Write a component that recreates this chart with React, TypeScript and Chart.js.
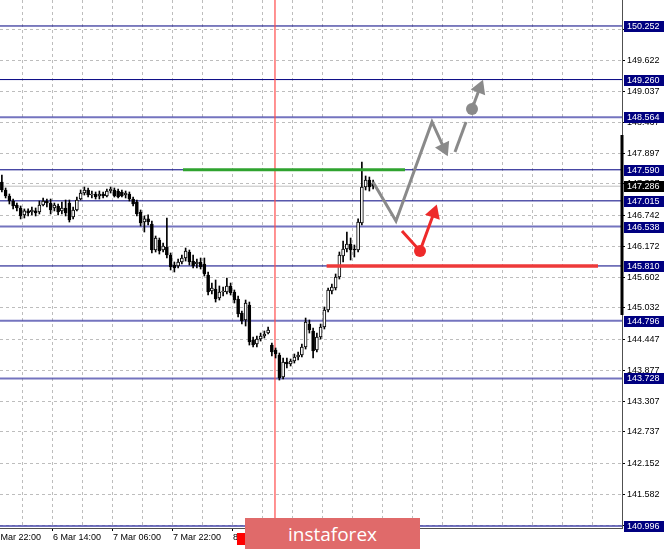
import React, { useEffect, useRef } from 'react';
import { Chart, registerables } from 'chart.js';
Chart.register(...registerables);

// ---- Candles (H1), index = bar position ----
const candleOpen = [
  147.364, 147.216, 147.105, 147.012, 146.938, 146.883, 146.754, 146.828, 146.809, 146.828,
  146.809, 146.938, 147.012, 146.975, 146.883, 146.920, 146.828, 146.883, 146.975, 146.717,
  146.846, 147.049, 147.160, 147.216, 147.123, 147.142, 147.105, 147.142, 147.105, 147.197,
  147.216, 147.197, 147.179, 147.123, 147.142, 147.049, 146.994, 146.809, 146.623, 146.680,
  146.586, 146.105, 146.290, 146.105, 146.161, 146.012, 145.827, 145.809, 145.883, 145.957,
  146.068, 145.901, 145.846, 145.883, 145.846, 145.642, 145.346, 145.383, 145.216, 145.328,
  145.328, 145.439, 145.328, 145.198, 144.939, 144.809, 145.086, 144.439, 144.365, 144.457,
  144.513, 144.568, 144.346, 144.254, 144.161, 143.754, 144.032, 143.995, 144.050, 144.124,
  144.161, 144.309, 144.735, 144.605, 144.254, 144.494, 144.680, 144.994, 145.346, 145.402,
  145.605, 145.994, 146.124, 146.216, 146.124, 146.105, 146.605, 147.271, 147.401, 147.345,
];
const candleHigh = [
  147.493, 147.253, 147.142, 147.049, 146.975, 146.920, 146.865, 146.865, 146.901, 146.883,
  147.012, 147.068, 147.049, 147.049, 146.975, 146.957, 146.994, 147.031, 147.031, 146.901,
  147.086, 147.216, 147.271, 147.253, 147.197, 147.179, 147.197, 147.179, 147.234, 147.271,
  147.253, 147.234, 147.216, 147.197, 147.179, 147.086, 147.031, 146.846, 146.735, 146.754,
  146.642, 146.364, 146.327, 146.235, 146.698, 146.050, 145.883, 145.938, 146.012, 146.142,
  146.105, 146.012, 145.938, 145.957, 145.957, 145.698, 145.494, 145.550, 145.439, 145.420,
  145.587, 145.494, 145.365, 145.253, 144.976, 145.179, 145.142, 144.494, 144.513, 144.568,
  144.605, 144.680, 144.383, 144.291, 144.198, 144.106, 144.106, 144.087, 144.180, 144.217,
  144.365, 144.846, 144.809, 144.661, 144.568, 144.735, 145.050, 145.402, 145.476, 145.661,
  146.068, 146.272, 146.438, 146.327, 146.198, 146.680, 147.734, 147.475, 147.456, 147.401,
];
const candleLow = [
  147.179, 147.068, 146.957, 146.865, 146.828, 146.680, 146.698, 146.735, 146.754, 146.735,
  146.772, 146.920, 146.901, 146.772, 146.828, 146.754, 146.772, 146.735, 146.623, 146.680,
  146.828, 147.031, 147.123, 147.086, 147.068, 147.049, 147.049, 147.068, 147.086, 147.160,
  147.086, 147.068, 147.086, 147.068, 147.012, 146.920, 146.735, 146.549, 146.438, 146.568,
  146.050, 146.068, 146.031, 146.068, 145.957, 145.735, 145.698, 145.772, 145.846, 145.901,
  145.827, 145.772, 145.772, 145.753, 145.624, 145.272, 145.290, 145.142, 145.179, 145.253,
  145.290, 145.272, 145.124, 144.865, 144.735, 144.698, 144.346, 144.309, 144.309, 144.420,
  144.476, 144.550, 144.143, 144.106, 143.698, 143.717, 143.921, 143.958, 144.013, 144.069,
  144.124, 144.272, 144.568, 144.106, 144.217, 144.457, 144.643, 144.957, 145.290, 145.365,
  145.568, 145.883, 146.068, 145.920, 145.975, 146.068, 146.568, 147.216, 147.197, 147.234,
];
const candleClose = [
  147.216, 147.105, 147.012, 146.920, 146.883, 146.735, 146.828, 146.791, 146.846, 146.791,
  146.938, 147.012, 146.975, 146.846, 146.938, 146.809, 146.883, 146.791, 146.660, 146.846,
  147.031, 147.160, 147.216, 147.123, 147.142, 147.086, 147.142, 147.105, 147.197, 147.234,
  147.105, 147.086, 147.105, 147.160, 147.049, 146.957, 146.772, 146.605, 146.680, 146.623,
  146.105, 146.327, 146.087, 146.179, 146.012, 145.790, 145.772, 145.883, 145.957, 146.087,
  145.883, 145.809, 145.883, 145.790, 145.661, 145.328, 145.402, 145.198, 145.328, 145.346,
  145.439, 145.309, 145.179, 144.920, 144.791, 145.124, 144.402, 144.346, 144.457, 144.513,
  144.550, 144.624, 144.217, 144.180, 143.735, 144.032, 143.995, 144.050, 144.124, 144.161,
  144.309, 144.772, 144.624, 144.235, 144.494, 144.680, 144.994, 145.365, 145.420, 145.605,
  146.012, 146.124, 146.216, 146.105, 146.105, 146.623, 147.271, 147.401, 147.271, 147.286,
];

// ---- Axes ----
const xMin = -0.5;
const xMax = 165.37;
const yMin = 140.959;
const yMax = 150.733;
const yTicks = [
  150.192, 149.622, 149.037, 148.467, 147.897, 147.327, 146.742, 146.172, 145.602,
  145.032, 144.447, 143.877, 143.307, 142.737, 142.152, 141.582, 141.012,
];
const xTickValues = [
  -2.367, 5.633, 13.633, 21.633, 29.633, 37.633, 45.633, 53.633, 61.633, 69.633, 77.633,
  85.633, 93.633, 101.633, 109.633, 117.633, 125.633, 133.633, 141.633, 149.633, 157.633,
];
const xTickLabels = [
  '5 Mar 22:00', '', '6 Mar 14:00', '', '7 Mar 06:00', '', '7 Mar 22:00', '', '8 Mar 14:00', '',
  '9 Mar 06:00', '', '9 Mar 22:00', '', '', '', '', '', '', '', '',
];

// ---- Levels ----
const levelsDark = [150.252, 149.26, 147.59, 147.015, 145.81];
const levelsLight = [148.564, 146.538, 144.796, 143.728, 140.996];
const currentPrice = 147.286;
const rangeBar = [148.234, 144.902];
const markerTime = 72.83;
const markerLabel = '9 Mar 01:00';

// ---- Forecast drawings ----
const greenLineX = [48.3, 107.5];
const greenLineY = [147.59, 147.59];
const redLineX = [86.6, 158.97];
const redLineY = [145.81, 145.81];
const greyPathX = [98.97, 105.1, 114.7, 117.9];
const greyPathY = [147.364, 146.642, 148.475, 147.99];
const greySeg2X = [120.83, 123.77];
const greySeg2Y = [147.919, 148.475];
const greyArrowX = [125.37, 127.4];
const greyArrowY = [148.715, 149.1];
const redPathX = [106.7, 111.5, 115.2];
const redPathY = [146.457, 146.087, 146.79];

const FONT = 'Liberation Sans';

const pts = (xs: number[], ys: number[]) => xs.map((x, i) => ({ x, y: ys[i] }));

const overlayPlugin = {
  id: 'overlay',
  afterDraw(chart: any) {
    const { ctx, chartArea } = chart;
    const x = chart.scales.x;
    const y = chart.scales.y;
    const rx = chartArea.right;
    ctx.save();
    // range bar on the axis
    const y1 = y.getPixelForValue(rangeBar[0]);
    const y2 = y.getPixelForValue(rangeBar[1]);
    ctx.fillStyle = '#000';
    ctx.fillRect(rx - 1.5, y1, 3, y2 - y1);
    // price boxes
    ctx.font = `9px "${FONT}"`;
    ctx.textBaseline = 'middle';
    ctx.textAlign = 'left';
    const box = (v: number, bg: string) => {
      const py = Math.round(y.getPixelForValue(v));
      ctx.fillStyle = bg;
      ctx.fillRect(rx + 2, py - 5, 40, 11);
      ctx.fillStyle = '#fff';
      ctx.fillText(v.toFixed(3), rx + 5, py + 0.5);
    };
    [...levelsDark, ...levelsLight].forEach((v) => box(v, '#000080'));
    box(currentPrice, '#000');
    // red time label of the vertical line
    const mx = x.getPixelForValue(markerTime);
    ctx.fillStyle = '#ff0000';
    ctx.fillRect(mx - 38, chartArea.bottom + 5, 76, 12);
    ctx.fillStyle = '#fff';
    ctx.textAlign = 'center';
    ctx.fillText(markerLabel, mx, chartArea.bottom + 11);
    ctx.restore();
  },
};

export default function App() {
  const ref = useRef<HTMLCanvasElement>(null);
  useEffect(() => {
    const idx = candleOpen.map((_, i) => i);
    const levelDatasets = [
      ...levelsDark.map((v) => ({
        type: 'line',
        data: pts([xMin, xMax], [v, v]),
        borderColor: '#000080',
        borderWidth: 1,
        pointRadius: 0,
        order: 10,
      })),
      ...levelsLight.map((v) => ({
        type: 'line',
        data: pts([xMin, xMax], [v, v]),
        borderColor: 'rgba(70,70,170,0.75)',
        borderWidth: 2,
        pointRadius: 0,
        order: 10,
      })),
    ];
    const chart = new Chart(ref.current as HTMLCanvasElement, {
      type: 'bar',
      data: {
        datasets: [
          ...levelDatasets,
          {
            type: 'line',
            data: pts([xMin, xMax], [currentPrice, currentPrice]),
            borderColor: '#c0c0c0',
            borderWidth: 1,
            pointRadius: 0,
            order: 10,
          },
          {
            type: 'line',
            data: pts([markerTime, markerTime], [yMin, yMax]),
            borderColor: '#ff4a4a',
            borderWidth: 1.2,
            pointRadius: 0,
            order: 9,
          },
          {
            type: 'bar',
            data: idx.map((i) => ({ x: i, y: [candleLow[i], candleHigh[i]] })),
            backgroundColor: '#000',
            barThickness: 1,
            grouped: false,
            order: 4,
          },
          {
            type: 'bar',
            data: idx.map((i) => ({ x: i, y: [candleOpen[i], candleClose[i]] })),
            backgroundColor: idx.map((i) => (candleClose[i] >= candleOpen[i] ? '#ffffff' : '#000000')),
            borderColor: '#000',
            borderWidth: 1,
            borderSkipped: false,
            barThickness: 3,
            minBarLength: 1,
            grouped: false,
            order: 3,
          },
          {
            type: 'line',
            data: pts(greenLineX, greenLineY),
            borderColor: '#2fa32f',
            borderWidth: 3,
            pointRadius: 0,
            order: 2,
          },
          {
            type: 'line',
            data: pts(redLineX, redLineY),
            borderColor: '#ee3a3a',
            borderWidth: 3.5,
            pointRadius: 0,
            order: 2,
          },
          {
            type: 'line',
            data: pts(greyPathX, greyPathY),
            borderColor: '#8a8a8a',
            borderWidth: 3,
            borderJoinStyle: 'miter',
            pointStyle: 'triangle',
            pointRadius: [0, 0, 0, 9],
            pointRotation: [0, 0, 0, 155],
            pointBackgroundColor: '#8a8a8a',
            pointBorderWidth: 0,
            order: 1,
          },
          {
            type: 'line',
            data: pts(greySeg2X, greySeg2Y),
            borderColor: '#8a8a8a',
            borderWidth: 3,
            pointRadius: 0,
            order: 1,
          },
          {
            type: 'line',
            data: pts(greyArrowX, greyArrowY),
            borderColor: '#8a8a8a',
            borderWidth: 3,
            pointStyle: ['circle', 'triangle'],
            pointRadius: [6, 9],
            pointRotation: [0, 22],
            pointBackgroundColor: '#8a8a8a',
            pointBorderWidth: 0,
            order: 1,
          },
          {
            type: 'line',
            data: pts(redPathX, redPathY),
            borderColor: '#ee2a2a',
            borderWidth: 3,
            borderJoinStyle: 'miter',
            pointStyle: ['circle', 'circle', 'triangle'],
            pointRadius: [0, 6, 9],
            pointRotation: [0, 0, 19],
            pointBackgroundColor: '#ee2a2a',
            pointBorderWidth: 0,
            order: 1,
          },
        ] as any,
      },
      options: {
        animation: false,
        responsive: false,
        maintainAspectRatio: false,
        layout: { padding: 0, autoPadding: false },
        plugins: { legend: { display: false }, tooltip: { enabled: false } },
        scales: {
          x: {
            type: 'linear',
            min: xMin,
            max: xMax,
            offset: false,
            position: 'bottom',
            afterBuildTicks: (s: any) => {
              s.ticks = xTickValues.map((v) => ({ value: v }));
            },
            afterFit: (s: any) => {
              s.height = 21;
              s.paddingLeft = 0;
              s.paddingRight = 0;
            },
            ticks: {
              autoSkip: false,
              maxRotation: 0,
              minRotation: 0,
              align: 'start',
              padding: 1,
              color: '#000',
              font: { family: FONT, size: 9 },
              callback: (_v: any, i: number) => xTickLabels[i] || '',
            },
            grid: {
              color: '#bdbdbd',
              offset: false,
              tickLength: 3,
              tickBorderDash: [],
              tickColor: (c: any) => (xTickLabels[c.index] ? '#000' : 'rgba(0,0,0,0)'),
            },
            border: { display: true, color: '#505050', width: 1, dash: [3, 3] },
          },
          y: {
            type: 'linear',
            position: 'right',
            min: yMin,
            max: yMax,
            afterBuildTicks: (s: any) => {
              s.ticks = yTicks.map((v) => ({ value: v }));
            },
            afterFit: (s: any) => {
              s.width = 43;
              s.paddingTop = 0;
              s.paddingBottom = 0;
            },
            ticks: {
              autoSkip: false,
              padding: 2,
              color: '#000',
              font: { family: FONT, size: 9 },
              callback: (v: any) => Number(v).toFixed(3),
            },
            grid: {
              color: '#bdbdbd',
              tickLength: 3,
              tickBorderDash: [],
              tickColor: '#000',
            },
            border: { display: true, color: '#505050', width: 1, dash: [3, 3] },
          },
        },
      } as any,
      plugins: [overlayPlugin],
    });
    return () => chart.destroy();
  }, []);

  return (
    <div style={{ position: 'absolute', left: 0, top: 0, width: 665, height: 549, background: '#fff' }}>
      <canvas ref={ref} width={665} height={549} style={{ width: 665, height: 549, display: 'block' }} />
      <div
        style={{
          position: 'absolute',
          left: 245,
          top: 518,
          width: 175,
          height: 31,
          background: '#e06a6a',
          color: '#fff',
          font: '19px "Open Sans"',
          display: 'flex',
          alignItems: 'center',
          justifyContent: 'center',
        }}
      >
        instaforex
      </div>
    </div>
  );
}
